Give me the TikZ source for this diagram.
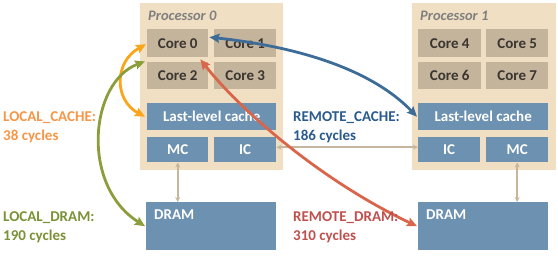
\documentclass[tikz,border=0pt]{standalone}
\usepackage{fontspec}
\setmainfont{Carlito}
\usetikzlibrary{arrows.meta}
\definecolor{procbg}{HTML}{F1DFC4}
\definecolor{corebg}{HTML}{C4B49B}
\definecolor{unitbg}{HTML}{6C91B1}
\definecolor{coretext}{HTML}{3A3530}
\definecolor{proctext}{HTML}{7F7F7F}
\definecolor{linkcol}{HTML}{C6B69C}
\definecolor{lcache}{HTML}{F79646}
\definecolor{lcachearr}{HTML}{FBA51A}
\definecolor{ldram}{HTML}{7A9235}
\definecolor{ldramarr}{HTML}{8C9E3C}
\definecolor{rcache}{HTML}{2A5A8E}
\definecolor{rcachearr}{HTML}{3D6C98}
\definecolor{rdram}{HTML}{C0504D}
\definecolor{rdramarr}{HTML}{D9654B}
\tikzset{
  procbox/.style={rectangle, fill=procbg, inner sep=0pt, anchor=north west},
  corebox/.style={rectangle, fill=corebg, inner sep=0pt, anchor=north west,
    font=\bfseries\fontsize{15}{16}\selectfont, text=coretext},
  unitbox/.style={rectangle, fill=unitbg, inner sep=0pt, anchor=north west,
    font=\bfseries\fontsize{15}{16}\selectfont, text=white},
  proclabel/.style={anchor=west, inner sep=0pt, text=proctext,
    font=\bfseries\itshape\fontsize{14.5}{16}\selectfont},
  dramlabel/.style={anchor=west, inner sep=0pt, text=white,
    font=\bfseries\fontsize{15}{16}\selectfont},
  latency/.style={anchor=north west, inner sep=0pt, align=left,
    font=\bfseries\fontsize{15}{19}\selectfont},
  access/.style={line width=2.8pt, {Stealth[length=10pt, width=9pt, inset=1.5pt]}-{Stealth[length=10pt, width=9pt, inset=1.5pt]}},
  link/.style={line width=1.8pt, draw=linkcol, {Stealth[length=5pt, width=5pt]}-{Stealth[length=5pt, width=5pt]}}
}
\begin{document}
\begin{tikzpicture}[x=1pt, y=-1pt]
\useasboundingbox (0,0) rectangle (558,255);

% processor packages
\node[procbox, minimum width=143pt, minimum height=167pt] (p0) at (140,3) {};
\node[procbox, minimum width=144pt, minimum height=167pt] (p1) at (412,3) {};
\node[proclabel] (p0lab) at (148,15.5) {Processor 0};
\node[proclabel] (p1lab) at (420,15.5) {Processor 1};

% processor 0 units
\node[corebox, minimum width=61pt, minimum height=28pt] (c0) at (147,29) {Core 0};
\node[corebox, minimum width=62pt, minimum height=28pt] (c1) at (214,29) {Core 1};
\node[corebox, minimum width=61pt, minimum height=27pt] (c2) at (147,62) {Core 2};
\node[corebox, minimum width=62pt, minimum height=27pt] (c3) at (214,62) {Core 3};
\node[unitbox, minimum width=129pt, minimum height=27pt] (llc0) at (147,103) {Last-level cache};
\node[unitbox, minimum width=61pt, minimum height=25pt] (mc0) at (147,137) {MC};
\node[unitbox, minimum width=62pt, minimum height=25pt] (ic0) at (214,137) {IC};
\node[unitbox, minimum width=130pt, minimum height=48pt] (dram0) at (146,202) {};
\node[dramlabel] (dram0lab) at (154,215) {DRAM};

% processor 1 units
\node[corebox, minimum width=63pt, minimum height=28pt] (c4) at (418,29) {Core 4};
\node[corebox, minimum width=62pt, minimum height=28pt] (c5) at (486,29) {Core 5};
\node[corebox, minimum width=63pt, minimum height=27pt] (c6) at (418,62) {Core 6};
\node[corebox, minimum width=62pt, minimum height=27pt] (c7) at (486,62) {Core 7};
\node[unitbox, minimum width=130pt, minimum height=27pt] (llc1) at (418,103) {Last-level cache};
\node[unitbox, minimum width=62pt, minimum height=25pt] (ic1) at (418,137) {IC};
\node[unitbox, minimum width=62pt, minimum height=25pt] (mc1) at (486,137) {MC};
\node[unitbox, minimum width=130pt, minimum height=48pt] (dram1) at (418,202) {};
\node[dramlabel] (dram1lab) at (426,215) {DRAM};

% memory and interconnect links
\draw[link] (mc0.south) -- (mc0.south |- dram0.north);
\draw[link] (mc1.south) -- (mc1.south |- dram1.north);
\draw[link] ([yshift=2.5pt]ic0.east) -- ([yshift=2.5pt]ic1.west);

% access paths
\coordinate (c0w) at ([xshift=-1pt, yshift=-1pt]c0.west);
\coordinate (c0sw) at ([xshift=-2pt, yshift=-4pt]c0.south west);
\coordinate (c0e) at ([xshift=1pt, yshift=6pt]c0.east);
\coordinate (c0s) at ([xshift=-8pt, yshift=-2pt]c0.south east);
\draw[access, draw=lcachearr] (c0w) .. controls (114,62) and (114,100) .. ([xshift=-2pt]llc0.west);
\draw[access, draw=ldramarr] (c0sw) .. controls (90,82) and (80,185) .. ([xshift=-1pt]dram0.west);
\draw[access, draw=rcachearr] (c0e) .. controls (300,47) and (372,70) .. ([xshift=-1pt]llc1.west);
\draw[access, draw=rdramarr] (c0s) .. controls (240,110) and (320,180) .. ([xshift=-1pt]dram1.west);

% latency labels
\node[latency, text=lcache] (lc) at (3,111) {LOCAL\_CACHE:\\38 cycles};
\node[latency, text=ldram] (ld) at (3,211) {LOCAL\_DRAM:\\190 cycles};
\node[latency, text=rcache] (rc) at (293,111) {REMOTE\_CACHE:\\186 cycles};
\node[latency, text=rdram] (rd) at (293,211) {REMOTE\_DRAM:\\310 cycles};
\end{tikzpicture}
\end{document}
